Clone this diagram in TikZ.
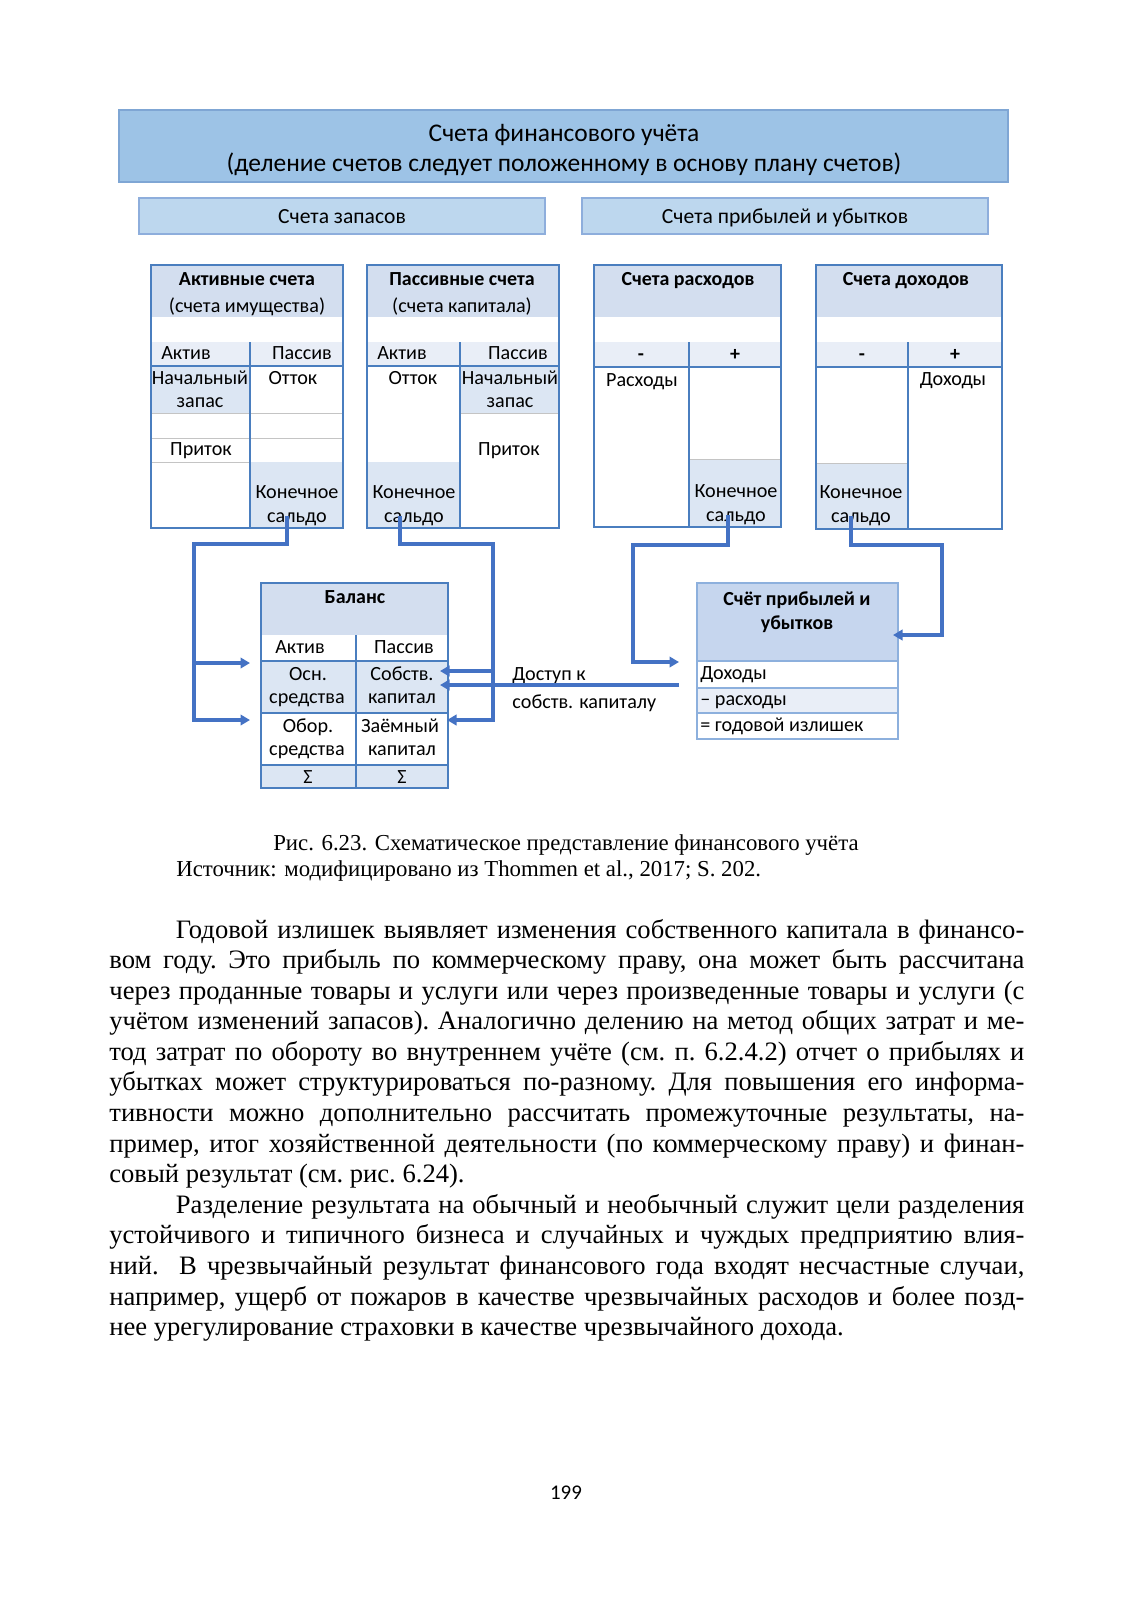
\documentclass[tikz,border=0pt]{standalone}
\usepackage{fontspec}
\setmainfont{Liberation Serif}
\newfontfamily\calibri{Carlito}
\usepackage{tikz}
\usetikzlibrary{arrows.meta,calc}
\definecolor{frameblue}{HTML}{4A7EBF}
\definecolor{linkblue}{HTML}{4472C4}
\definecolor{headblue}{HTML}{9DC3E6}
\definecolor{headline}{HTML}{7FA6D4}
\definecolor{subblue}{HTML}{BDD7EE}
\definecolor{subline}{HTML}{8EAEDC}
\definecolor{titlefill}{HTML}{D3DEEF}
\definecolor{rowfill}{HTML}{E9EEF7}
\definecolor{cellfill}{HTML}{DCE6F3}
\definecolor{gridgrey}{HTML}{C4C4C4}
\definecolor{plline}{HTML}{8DB0DD}
\definecolor{plfill}{HTML}{C6D6EE}
\tikzset{
  lbl/.style={font=\calibri\fontsize{10.6}{12}\selectfont,inner sep=0pt,anchor=base},
  ttl/.style={font=\calibri\bfseries\fontsize{10.5}{12}\selectfont,inner sep=0pt,anchor=base},
  big/.style={font=\calibri\fontsize{13.4}{15}\selectfont,inner sep=0pt,anchor=base},
  sub/.style={font=\calibri\fontsize{11.35}{13}\selectfont,inner sep=0pt,anchor=base},
  frame/.style={draw=frameblue,line width=1pt},
  grid/.style={draw=gridgrey,line width=0.5pt},
  link/.style={draw=linkblue,line width=1.6pt},
  arr/.style={link,-{Triangle[length=5pt,width=5.5pt]}},
  body/.style={font=\fontsize{14}{16.1}\selectfont,inner sep=0pt}
}

\begin{document}
\begin{tikzpicture}[x=0.5262pt,y=-0.5262pt]
\useasboundingbox (0,0) rectangle (1132,1601);
\fill[white] (0,0) rectangle (1132,1601);

% top boxes
\draw[draw=headline,fill=headblue,line width=0.8pt] (119,110) rectangle (1008,182);
\node[big] (head1) at (564,141) {Счета финансового учёта};
\node[big] (head2) at (564,171) {(деление счетов следует положенному в основу плану счетов)};
\draw[draw=subline,fill=subblue,line width=0.8pt] (139,198) rectangle (545,234);
\draw[draw=subline,fill=subblue,line width=0.8pt] (582,198) rectangle (988,234);
\node[sub] (stock) at (342,223) {Счета запасов};
\node[sub] (pnl) at (785,223) {Счета прибылей и убытков};

% Активные счета
\fill[titlefill] (151,265) rectangle (343,317);
\fill[rowfill] (151,342) rectangle (343,366);
\fill[cellfill] (151,366) rectangle (250,413);
\fill[cellfill] (250,462) rectangle (343,528);
\draw[grid] (151,413) -- (343,413) (151,438) -- (343,438) (151,462) -- (250,462);
\draw[frame] (151,366) -- (343,366) (250,342) -- (250,528);
\draw[frame] (151,265) rectangle (343,528);
\node[ttl] (aT) at (247,285) {Активные счета};
\node[lbl] (aS) at (247,312) {(счета имущества)};
\node[lbl] (aA) at (186,359) {Актив};
\node[lbl] (aP) at (302,359) {Пассив};
\node[lbl] (aN1) at (200,384) {Начальный};
\node[lbl] (aN2) at (200,407) {запас};
\node[lbl] (aOut) at (293,384) {Отток};
\node[lbl] (aIn) at (201,455) {Приток};
\node[lbl] (aKon) at (297,498) {Конечное};
\node[lbl] (aSal) at (297,522) {сальдо};

% Пассивные счета
\fill[titlefill] (367,265) rectangle (559,317);
\fill[rowfill] (367,342) rectangle (559,366);
\fill[cellfill] (460,366) rectangle (559,413);
\fill[cellfill] (367,462) rectangle (460,528);
\draw[grid] (460,413) -- (559,413);
\draw[frame] (367,366) -- (559,366) (460,342) -- (460,528);
\draw[frame] (367,265) rectangle (559,528);
\node[ttl] (pT) at (462,285) {Пассивные счета};
\node[lbl] (pS) at (462,312) {(счета капитала)};
\node[lbl] (pA) at (402,359) {Актив};
\node[lbl] (pP) at (518,359) {Пассив};
\node[lbl] (pOut) at (413,384) {Отток};
\node[lbl] (pN1) at (510,384) {Начальный};
\node[lbl] (pN2) at (510,407) {запас};
\node[lbl] (pIn) at (509,455) {Приток};
\node[lbl] (pKon) at (414,498) {Конечное};
\node[lbl] (pSal) at (414,522) {сальдо};

% Счета расходов
\fill[titlefill] (594,265) rectangle (781,317);
\fill[rowfill] (594,342) rectangle (781,367);
\fill[cellfill] (689,459) rectangle (781,527);
\draw[grid] (689,459) -- (781,459);
\draw[frame] (594,367) -- (781,367) (689,342) -- (689,527);
\draw[frame] (594,265) rectangle (781,527);
\node[ttl] (rT) at (688,285) {Счета расходов};
\node[ttl] (rM) at (641,360) {-};
\node[ttl] (rPl) at (735,360) {+};
\node[lbl] (rX) at (642,386) {Расходы};
\node[lbl] (rKon) at (736,497) {Конечное};
\node[lbl] (rSal) at (736,521) {сальдо};

% Счета доходов
\fill[titlefill] (816,265) rectangle (1002,317);
\fill[rowfill] (816,342) rectangle (1002,367);
\fill[cellfill] (816,463) rectangle (908,529);
\draw[grid] (816,463) -- (908,463);
\draw[frame] (816,367) -- (1002,367) (908,342) -- (908,529);
\draw[frame] (816,265) rectangle (1002,529);
\node[ttl] (dT) at (906,285) {Счета доходов};
\node[ttl] (dM) at (862,360) {-};
\node[ttl] (dPl) at (955,360) {+};
\node[lbl] (dX) at (953,385) {Доходы};
\node[lbl] (dKon) at (861,498) {Конечное};
\node[lbl] (dSal) at (861,522) {сальдо};

% Баланс
\fill[titlefill] (261,583) rectangle (448,635);
\fill[cellfill] (261,661) rectangle (448,713);
\fill[cellfill] (261,765) rectangle (448,788);
\draw[frame] (261,661) -- (448,661) (261,713) -- (448,713) (261,765) -- (448,765) (356,635) -- (356,788);
\draw[frame] (261,583) rectangle (448,788);
\node[ttl] (bT) at (355,603) {Баланс};
\node[lbl] (bA) at (300,653) {Актив};
\node[lbl] (bP) at (404,653) {Пассив};
\node[lbl] (bOsn1) at (308,680) {Осн.};
\node[lbl] (bOsn2) at (307,703) {средства};
\node[lbl] (bSob1) at (402,680) {Собств.};
\node[lbl] (bSob2) at (402,703) {капитал};
\node[lbl] (bOb1) at (308,732) {Обор.};
\node[lbl] (bOb2) at (307,755) {средства};
\node[lbl] (bZa1) at (400,732) {Заёмный};
\node[lbl] (bZa2) at (402,755) {капитал};
\node[lbl] (bS1) at (308,783) {Σ};
\node[lbl] (bS2) at (402,783) {Σ};

% Счёт прибылей и убытков
\fill[plfill] (697,583) rectangle (898,661);
\fill[rowfill] (697,688) rectangle (898,713);
\draw[draw=plline,line width=1pt] (697,661) -- (898,661) (697,688) -- (898,688) (697,713) -- (898,713);
\draw[draw=plline,line width=1pt] (697,583) rectangle (898,739);
\node[ttl] (plT1) at (797,605) {Счёт прибылей и};
\node[ttl] (plT2) at (797,629) {убытков};
\node[lbl,anchor=base west] (plD) at (700,679) {Доходы};
\node[lbl,anchor=base west] (plR) at (700,705) {– расходы};
\node[lbl,anchor=base west] (plG) at (700,731) {= годовой излишек};

\node[lbl,anchor=base west] (acc1) at (512,680) {Доступ к};
\node[lbl,anchor=base west] (acc2) at (512,708) {собств. капиталу};

% connectors
\coordinate (osnIn) at (250,663);
\coordinate (oborIn) at (250,720);
\coordinate (sobIn1) at (440,671);
\coordinate (sobIn2) at (440,685);
\coordinate (zaemIn) at (447,720);
\coordinate (plIn1) at (679,662);
\coordinate (plIn2) at (893,635);
\draw[arr] ($(aSal.base)+(-10,-6)$) |- (194,544) |- (oborIn);
\draw[arr] (194,663) -- (osnIn);
\draw[arr] ($(pSal.base)+(-14,-6)$) |- (493,544) |- (zaemIn);
\draw[arr] (493,671) -- (sobIn1);
\draw[arr] (679,685) -- (sobIn2);
\draw[arr] ($(rSal.base)+(-8,-6)$) |- (633,545) |- (plIn1);
\draw[arr] ($(dSal.base)+(-10,-6)$) |- (942,545) |- (plIn2);

% caption and text
\node[font=\fontsize{12}{14}\selectfont,inner sep=0pt,anchor=base] (cap1) at (566,850) {Рис. 6.23. Схематическое представление финансового учёта};
\node[font=\fontsize{12}{14}\selectfont,inner sep=0pt,anchor=base west] (cap2) at (176,876) {Источник: модифицировано из Thommen et al., 2017; S. 202.};

\node[body,anchor=base west,text width=481.5pt,align=justify] (txt) at (109,938) {\frenchspacing\hyphenpenalty=10000\exhyphenpenalty=10000
\hspace*{35pt}Годовой излишек выявляет изменения собственного капитала в финансо-\linebreak
вом году. Это прибыль по коммерческому праву, она может быть рассчитана\linebreak
через проданные товары и услуги или через произведенные товары и услуги (с\linebreak
учётом изменений запасов). Аналогично делению на метод общих затрат и ме-\linebreak
тод затрат по обороту во внутреннем учёте (см. п. 6.2.4.2) отчет о прибылях и\linebreak
убытках может структурироваться по-разному. Для повышения его информа-\linebreak
тивности можно дополнительно рассчитать промежуточные результаты, на-\linebreak
пример, итог хозяйственной деятельности (по коммерческому праву) и финан-\linebreak
совый результат (см. рис. 6.24).\par
\hspace*{35pt}Разделение результата на обычный и необычный служит цели разделения\linebreak
устойчивого и типичного бизнеса и случайных и чуждых предприятию влия-\linebreak
ний.\ \ В чрезвычайный результат финансового года входят несчастные случаи,\linebreak
например, ущерб от пожаров в качестве чрезвычайных расходов и более позд-\linebreak
нее урегулирование страховки в качестве чрезвычайного дохода.\par};

\node[font=\calibri\fontsize{11}{13}\selectfont,inner sep=0pt] (pnum) at (566,1493) {199};
\end{tikzpicture}
\end{document}
